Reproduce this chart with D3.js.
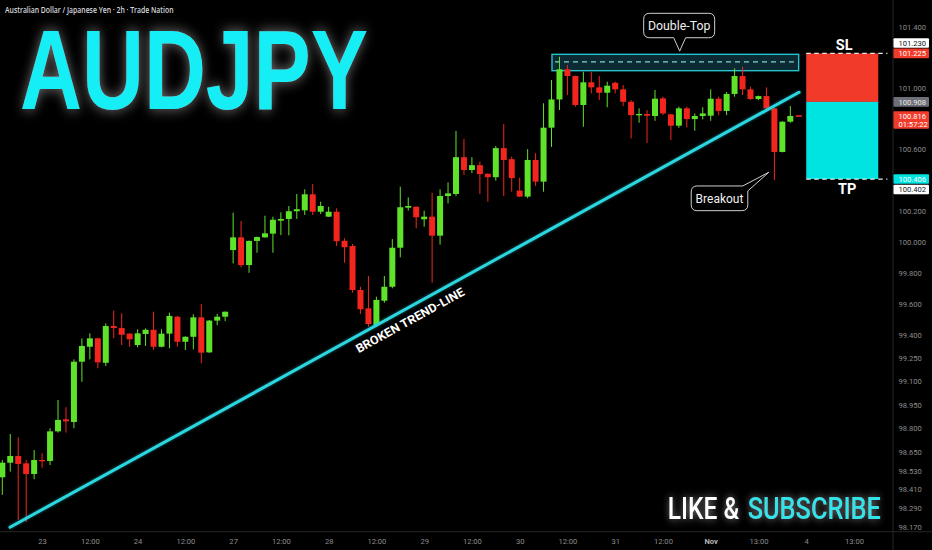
<!DOCTYPE html>
<html><head><meta charset="utf-8">
<script src="https://cdn.jsdelivr.net/npm/d3@7"></script>
<style>html,body{margin:0;padding:0;background:#000;overflow:hidden}svg{display:block}</style>
</head><body>
<svg id="c" width="932" height="550"></svg>
<script>
// ---------- DATA ----------
const open = [98.488,98.581,98.624,98.577,98.509,98.598,98.592,98.781,98.858,98.841,
99.227,99.323,99.377,99.220,99.456,99.443,99.407,99.334,99.405,99.432,
99.323,99.407,99.516,99.355,99.387,99.512,99.287,99.491,99.516,99.946,
100.028,99.849,100.005,100.028,100.052,100.136,100.147,100.197,100.203,100.307,
100.194,100.162,100.194,100.006,99.972,99.688,99.570,99.463,99.619,99.709,
99.961,100.220,100.226,100.145,100.162,100.039,100.296,100.309,100.548,100.465,
100.496,100.440,100.418,100.607,100.535,100.331,100.292,100.530,100.389,100.740,
100.924,101.121,101.077,100.888,101.036,101.003,100.968,101.033,100.990,100.909,
100.822,100.829,100.816,100.931,100.827,100.753,100.866,100.796,100.816,100.818,
100.929,100.849,100.960,101.077,100.990,100.927,100.946,100.866,100.582,100.779];
const high = [98.598,98.764,98.743,98.598,98.662,98.641,98.801,98.981,98.935,99.242,
99.377,99.409,99.380,99.473,99.555,99.538,99.410,99.435,99.441,99.548,
99.435,99.542,99.520,99.390,99.532,99.598,99.495,99.534,99.550,100.188,
100.134,100.008,100.033,100.168,100.162,100.190,100.231,100.309,100.339,100.373,
100.259,100.226,100.216,100.022,99.985,99.709,99.778,99.645,99.778,100.017,
100.356,100.287,100.229,100.201,100.317,100.339,100.384,100.719,100.667,100.548,
100.519,100.444,100.621,100.764,100.552,100.415,100.600,100.574,100.899,101.051,
101.203,101.149,101.080,101.105,101.105,101.077,101.040,101.040,101.018,100.920,
100.866,100.855,100.986,100.942,100.830,100.877,100.877,100.833,100.873,100.990,
100.942,100.973,101.127,101.138,101.007,100.949,101.003,100.869,100.782,100.881];
const low = [98.376,98.524,98.217,98.204,98.476,98.549,98.566,98.773,98.773,98.801,
99.098,99.242,99.185,99.199,99.377,99.334,99.323,99.319,99.328,99.302,
99.319,99.313,99.323,99.302,99.306,99.217,99.283,99.461,99.488,99.860,
99.834,99.799,99.929,100.026,99.929,100.043,100.041,100.147,100.173,100.173,
100.179,100.160,99.972,99.864,99.671,99.534,99.452,99.452,99.606,99.699,
99.899,100.201,100.087,100.097,99.735,99.981,100.248,100.296,100.433,100.444,
100.308,100.259,100.396,100.296,100.324,100.290,100.282,100.361,100.324,100.615,
100.855,100.953,100.877,100.746,100.964,100.920,100.873,100.964,100.881,100.670,
100.772,100.641,100.785,100.822,100.659,100.739,100.742,100.720,100.794,100.785,
100.822,100.822,100.942,100.953,100.920,100.920,100.855,100.400,100.579,100.772];
const close = [98.581,98.624,98.573,98.509,98.598,98.590,98.781,98.854,98.845,99.227,
99.328,99.377,99.223,99.456,99.443,99.400,99.371,99.409,99.432,99.323,
99.407,99.521,99.355,99.387,99.512,99.285,99.491,99.516,99.548,100.028,
99.849,100.005,100.030,100.054,100.142,100.147,100.197,100.210,100.307,100.194,
100.231,100.194,100.003,99.964,99.688,99.564,99.469,99.624,99.709,99.961,
100.223,100.231,100.158,100.162,100.039,100.296,100.313,100.548,100.465,100.496,
100.438,100.418,100.607,100.530,100.412,100.292,100.530,100.389,100.740,100.924,
101.121,101.077,100.888,101.036,101.003,100.968,101.014,100.990,100.909,100.822,
100.829,100.818,100.929,100.833,100.753,100.866,100.796,100.816,100.833,100.929,
100.849,100.960,101.077,100.990,100.927,100.946,100.866,100.582,100.779,100.816];

const yTicks = [101.4,101.0,100.6,100.2,100.0,99.8,99.6,99.4,99.25,99.1,98.95,98.8,98.65,98.53,98.41,98.29,98.17];
const xTickIdx = [5,11,17,23,29,35,41,47,53,59,65,71,77,83,89,95,101,107];
const xTickLabels = ['23','12:00','24','12:00','27','12:00','28','12:00','29','12:00','30','12:00','31','12:00','Nov','13:00','4','13:00'];

const trendIdx = [0.97, 100.1];
const trendPrice = [98.170, 100.971];
const doubleTopIdx = [69.06, 100.05];
const doubleTopPrice = [101.219, 101.112, 101.170]; // top, bottom, dashed level
const positionIdx = [101, 110.05, 111.2];
const entry = 100.908, stopLoss = 101.225, takeProfit = 100.406;
const lastPrice = 100.816, countdown = '01:57:22';
const tagValues = [101.230, 101.225, 100.908, 100.816, 100.406, 100.402];

// ---------- SETUP ----------
const W = 932, H = 550, AXIS_X = 893, AXIS_Y = 531.7;
const GREEN = '#5fe22a', RED = '#f2261e', CYAN = '#2cd7e0';
const svg = d3.select('#c');
svg.append('rect').attr('width', W).attr('height', H).attr('fill', '#000');
const defs = svg.append('defs');
function glow(id, std, color, op) {
  const f = defs.append('filter').attr('id', id).attr('x', '-30%').attr('y', '-60%').attr('width', '160%').attr('height', '220%');
  f.append('feGaussianBlur').attr('in', 'SourceAlpha').attr('stdDeviation', std).attr('result', 'b');
  f.append('feFlood').attr('flood-color', color).attr('flood-opacity', op);
  f.append('feComposite').attr('in2', 'b').attr('operator', 'in').attr('result', 'g');
  const m = f.append('feMerge');
  m.append('feMergeNode').attr('in', 'g');
  m.append('feMergeNode').attr('in', 'SourceGraphic');
}
glow('gTitle', 7, '#ffffff', 0.45);
glow('gLike', 4, '#ffffff', 0.5);
glow('gLine', 1.5, '#2cd7e0', 0.5);

// text squeezed horizontally to a target width (keeps real bbox = drawn size)
function fitText(parent, tx, ty, target, attrs, str, extra) {
  const g = parent.append('g');
  const t = g.append('text').text(str);
  Object.entries(attrs).forEach(([k, v]) => t.attr(k, v));
  const nat = t.node().getComputedTextLength();
  const k = target / nat;
  g.attr('transform', `translate(${tx},${ty})${extra || ''} scale(${k},1)`);
  return t;
}

const x = d3.scaleLinear().domain([0, 99]).range([2.3, 790.3]);
const y = d3.scaleLog().domain([98.17, 101.4]).range([527.3, 26.7]);

const data = open.map((o, i) => ({ i, o, h: high[i], l: low[i], c: close[i] }));

// ---------- AXES ----------
svg.append('line').attr('x1', 0).attr('x2', W).attr('y1', AXIS_Y).attr('y2', AXIS_Y).attr('stroke', '#262626').attr('stroke-width', 1);
svg.append('line').attr('x1', AXIS_X).attr('x2', AXIS_X).attr('y1', 0).attr('y2', H).attr('stroke', '#262626').attr('stroke-width', 1);

const yAxis = svg.append('g').attr('transform', `translate(${AXIS_X},0)`)
  .call(d3.axisRight(y).tickValues(yTicks).tickFormat(d3.format('.3f')).tickSize(0).tickPadding(5.5));
yAxis.select('.domain').remove();
yAxis.selectAll('text').attr('fill', '#8c8c8c').attr('font-family', 'Roboto, sans-serif').attr('font-size', 7.6);

const xAxis = svg.append('g').attr('transform', `translate(0,${AXIS_Y})`)
  .call(d3.axisBottom(x).tickValues(xTickIdx).tickFormat((d, k) => xTickLabels[k]).tickSize(0).tickPadding(6.5));
xAxis.select('.domain').remove();
xAxis.selectAll('text').attr('font-family', 'Roboto, sans-serif').attr('font-size', 7.6)
  .attr('font-weight', (d, k) => xTickLabels[k] === 'Nov' ? 700 : 400)
  .attr('fill', (d, k) => xTickLabels[k] === 'Nov' ? '#b5b5b5' : '#8c8c8c');

// ---------- DOUBLE TOP ZONE ----------
svg.append('rect')
  .attr('x', x(doubleTopIdx[0])).attr('width', x(doubleTopIdx[1]) - x(doubleTopIdx[0]))
  .attr('y', y(doubleTopPrice[0])).attr('height', y(doubleTopPrice[1]) - y(doubleTopPrice[0]))
  .attr('fill', '#0b2a33').attr('stroke', '#27c3cc').attr('stroke-width', 1.4);
svg.append('line')
  .attr('x1', x(doubleTopIdx[0]) + 3).attr('x2', x(doubleTopIdx[1]) - 3)
  .attr('y1', y(doubleTopPrice[2])).attr('y2', y(doubleTopPrice[2]))
  .attr('stroke', '#7fd3d6').attr('stroke-width', 1.2).attr('stroke-dasharray', '5,4');

// ---------- CANDLES ----------
const cg = svg.append('g');
cg.selectAll('line').data(data).join('line')
  .attr('x1', d => x(d.i)).attr('x2', d => x(d.i))
  .attr('y1', d => y(d.h)).attr('y2', d => y(d.l))
  .attr('stroke', d => d.c >= d.o ? GREEN : RED).attr('stroke-width', 1);
cg.selectAll('rect').data(data).join('rect')
  .attr('x', d => x(d.i) - 3).attr('width', 6)
  .attr('y', d => y(Math.max(d.o, d.c)))
  .attr('height', d => Math.max(1.3, Math.abs(y(d.o) - y(d.c))))
  .attr('fill', d => d.c >= d.o ? GREEN : RED);

// current price marker
svg.append('line').attr('x1', x(99) + 5.5).attr('x2', x(99) + 11.5)
  .attr('y1', y(lastPrice)).attr('y2', y(lastPrice)).attr('stroke', RED).attr('stroke-width', 1.6);

// ---------- TREND LINE ----------
const tp0 = [x(trendIdx[0]), y(trendPrice[0])], tp1 = [x(trendIdx[1]), y(trendPrice[1])];
svg.append('line').attr('x1', tp0[0]).attr('y1', tp0[1]).attr('x2', tp1[0]).attr('y2', tp1[1])
  .attr('stroke', CYAN).attr('stroke-width', 3).attr('stroke-linecap', 'round').attr('filter', 'url(#gLine)');
const ang = Math.atan2(tp1[1] - tp0[1], tp1[0] - tp0[0]) * 180 / Math.PI;
const ttx = x(50.5), tty = tp0[1] + (ttx - tp0[0]) * (tp1[1] - tp0[1]) / (tp1[0] - tp0[0]);
fitText(svg, ttx, tty, 122, {
  'text-anchor': 'middle', dy: 16, 'font-family': 'Roboto, sans-serif', 'font-weight': 700,
  'font-size': 12, fill: '#ffffff'
}, 'BROKEN TREND-LINE', ` rotate(${ang})`);

// ---------- POSITION TOOL ----------
const px0 = x(positionIdx[0]), px1 = x(positionIdx[1]), px2 = x(positionIdx[2]);
svg.append('rect').attr('x', px0).attr('width', px1 - px0).attr('y', y(stopLoss)).attr('height', y(entry) - y(stopLoss)).attr('fill', '#f23a2b');
svg.append('rect').attr('x', px0).attr('width', px1 - px0).attr('y', y(entry)).attr('height', y(takeProfit) - y(entry)).attr('fill', '#00e4e1');
[stopLoss, takeProfit].forEach(v => {
  svg.append('line').attr('x1', px0).attr('x2', px2).attr('y1', y(v)).attr('y2', y(v))
    .attr('stroke', '#e8e8e8').attr('stroke-width', 1.3).attr('stroke-dasharray', '4.5,3.5');
});
svg.append('text').attr('x', (px0 + px1) / 2 + 2).attr('y', y(stopLoss) - 3)
  .attr('text-anchor', 'middle').attr('font-family', 'Roboto, sans-serif').attr('font-weight', 700)
  .attr('font-size', 14.5).attr('fill', '#fff').text('SL');
svg.append('text').attr('x', (px0 + px1) / 2 + 5).attr('y', y(takeProfit) + 14.5)
  .attr('text-anchor', 'middle').attr('font-family', 'Roboto, sans-serif').attr('font-weight', 700)
  .attr('font-size', 14.5).attr('fill', '#fff').text('TP');

// ---------- PRICE TAGS ----------
const tagStyle = [
  { bg: '#ffffff', fg: '#131722', pinned: false },
  { bg: '#f23a2b', fg: '#ffffff', pinned: true },
  { bg: '#6e7079', fg: '#e6e6e6', pinned: true },
  { bg: '#f23a2b', fg: '#ffffff', pinned: true, sub: countdown },
  { bg: '#00e4e1', fg: '#ffffff', pinned: true },
  { bg: '#ffffff', fg: '#131722', pinned: false }
];
const TAG_H = 9.6;
const tags = tagValues.map((v, k) => Object.assign({ v, yc: y(v) }, tagStyle[k]));
tags.forEach(t => {
  if (t.pinned) return;
  tags.forEach(p => {
    if (!p.pinned) return;
    if (Math.abs(p.yc - t.yc) < TAG_H + 0.5) t.yc = t.v > p.v ? p.yc - TAG_H - 0.8 : p.yc + TAG_H + 0.8;
  });
});
const tg = svg.append('g');
tags.forEach(t => {
  const hgt = t.sub ? 17.6 : TAG_H;
  tg.append('rect').attr('x', AXIS_X + 0.5).attr('width', 35.5).attr('y', t.yc - TAG_H / 2).attr('height', hgt).attr('rx', 1).attr('fill', t.bg);
  tg.append('text').attr('x', AXIS_X + 5.5).attr('y', t.yc).attr('dy', '0.35em')
    .attr('font-family', 'Roboto, sans-serif').attr('font-size', 7.6).attr('fill', t.fg).text(d3.format('.3f')(t.v));
  if (t.sub) tg.append('text').attr('x', AXIS_X + 5.5).attr('y', t.yc + 8.6).attr('dy', '0.35em')
    .attr('font-family', 'Roboto, sans-serif').attr('font-size', 7.6).attr('fill', t.fg).text(t.sub);
});

// ---------- CALLOUTS ----------
function rr(x0, y0, w, h, r) {
  return { x0, y0, w, h, r, x1: x0 + w, y1: y0 + h };
}
// Double-Top (tail at bottom)
{
  const tip = [x(85.1), y(101.24)];
  const b = rr(tip[0] - 36, tip[1] - 37.8, 71, 24.4, 6);
  const p = d3.path();
  p.moveTo(b.x0 + b.r, b.y0); p.lineTo(b.x1 - b.r, b.y0); p.quadraticCurveTo(b.x1, b.y0, b.x1, b.y0 + b.r);
  p.lineTo(b.x1, b.y1 - b.r); p.quadraticCurveTo(b.x1, b.y1, b.x1 - b.r, b.y1);
  p.lineTo(tip[0] + 6, b.y1); p.lineTo(tip[0], tip[1]); p.lineTo(tip[0] - 6, b.y1);
  p.lineTo(b.x0 + b.r, b.y1); p.quadraticCurveTo(b.x0, b.y1, b.x0, b.y1 - b.r);
  p.lineTo(b.x0, b.y0 + b.r); p.quadraticCurveTo(b.x0, b.y0, b.x0 + b.r, b.y0); p.closePath();
  svg.append('path').attr('d', p.toString()).attr('fill', '#000').attr('stroke', '#cfcfcf').attr('stroke-width', 1);
  svg.append('text').attr('x', b.x0 + b.w / 2).attr('y', b.y0 + b.h / 2).attr('dy', '0.36em').attr('text-anchor', 'middle')
    .attr('font-family', 'Roboto, sans-serif').attr('font-size', 12.3).attr('fill', '#f0f0f0').text('Double-Top');
}
// Breakout (tail at top-right corner)
{
  const tip = [x(96.3), y(100.45)];
  const b = rr(tip[0] - 77.6, tip[1] + 13.7, 56.6, 24.7, 6);
  const p = d3.path();
  p.moveTo(b.x0 + b.r, b.y0); p.lineTo(b.x1 - 5, b.y0); p.lineTo(tip[0], tip[1]); p.lineTo(b.x1, b.y0 + 5);
  p.lineTo(b.x1, b.y1 - b.r); p.quadraticCurveTo(b.x1, b.y1, b.x1 - b.r, b.y1);
  p.lineTo(b.x0 + b.r, b.y1); p.quadraticCurveTo(b.x0, b.y1, b.x0, b.y1 - b.r);
  p.lineTo(b.x0, b.y0 + b.r); p.quadraticCurveTo(b.x0, b.y0, b.x0 + b.r, b.y0); p.closePath();
  svg.append('path').attr('d', p.toString()).attr('fill', '#000').attr('stroke', '#cfcfcf').attr('stroke-width', 1);
  svg.append('text').attr('x', b.x0 + b.w / 2).attr('y', b.y0 + b.h / 2).attr('dy', '0.36em').attr('text-anchor', 'middle')
    .attr('font-family', 'Roboto, sans-serif').attr('font-size', 12).attr('fill', '#f0f0f0').text('Breakout');
}

// ---------- TITLES ----------
fitText(svg, 5, 13, 169, {
  'font-family': 'Open Sans, sans-serif', 'font-weight': 600, 'font-size': 8, fill: '#d6d8dc'
}, 'Australian Dollar / Japanese Yen · 2h · Trade Nation');
fitText(svg, 20, 109, 348, {
  'font-family': 'Liberation Sans, Arial, sans-serif', 'font-weight': 700, 'font-size': 114,
  fill: '#17eef5', filter: 'url(#gTitle)'
}, 'AUDJPY');
fitText(svg, 667.7, 519.3, 71.6, {
  'font-family': 'Roboto, sans-serif', 'font-weight': 500, 'font-size': 31, fill: '#ffffff', filter: 'url(#gLike)'
}, 'LIKE &');
fitText(svg, 747.7, 519.3, 133.3, {
  'font-family': 'Roboto, sans-serif', 'font-weight': 500, 'font-size': 31, fill: '#33e3ea', filter: 'url(#gLike)'
}, 'SUBSCRIBE');
</script>
</body></html>
